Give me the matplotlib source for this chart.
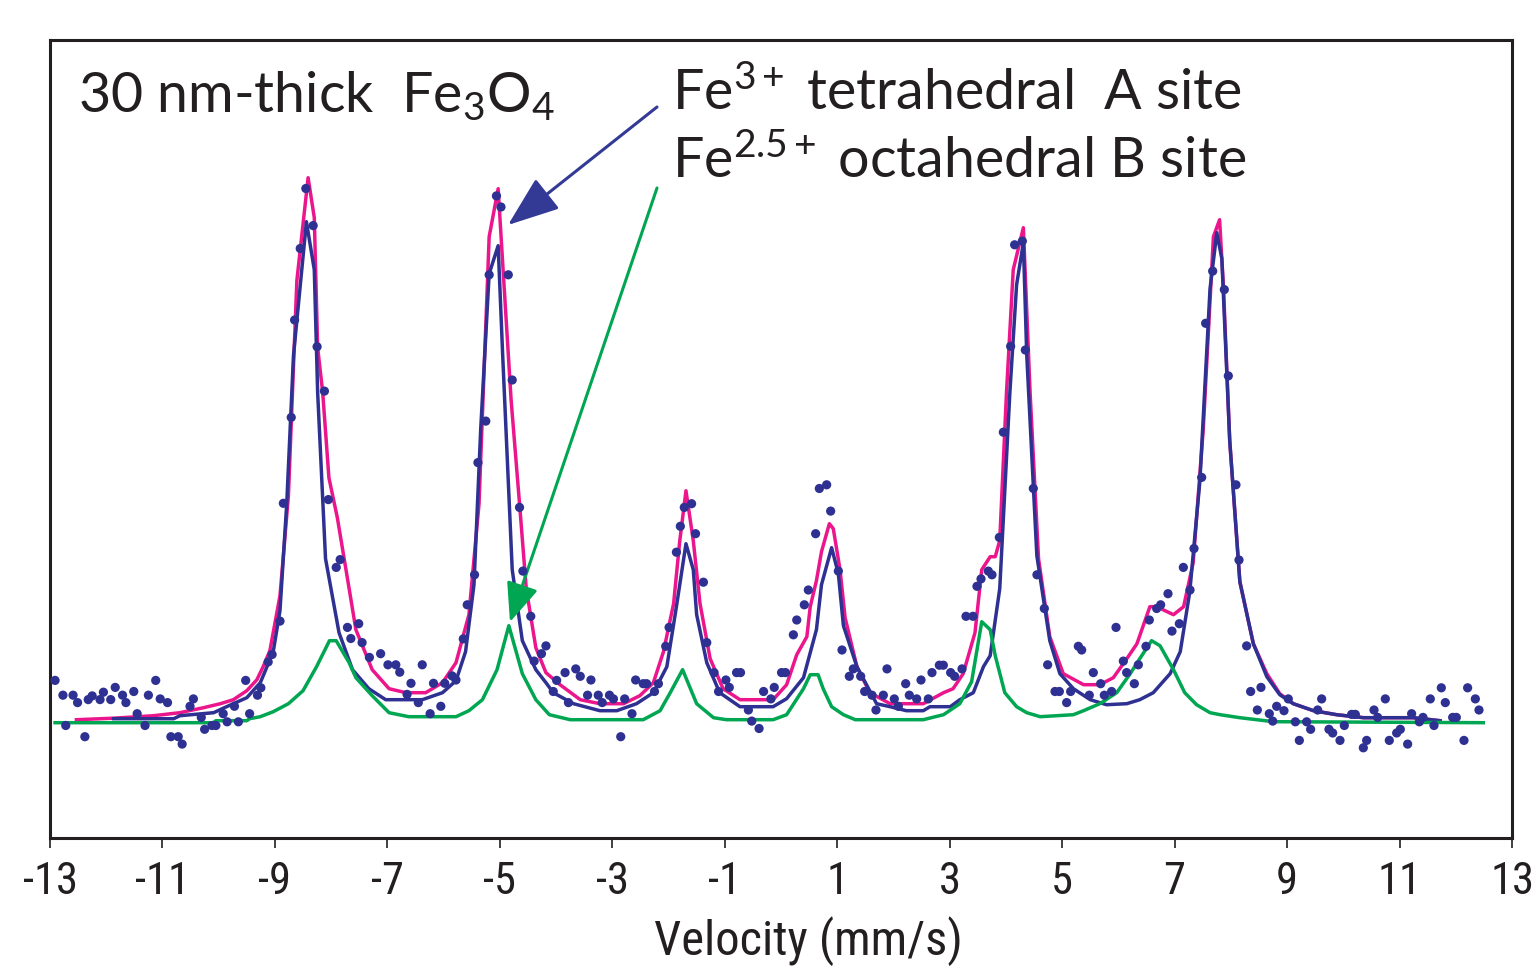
import matplotlib
matplotlib.use("Agg")
import matplotlib.pyplot as plt
from matplotlib import font_manager
import numpy as np

# ---------------- data ----------------
# measured spectrum (velocity mm/s, relative intensity)
data_v = [-12.91, -12.77, -12.72, -12.59, -12.51, -12.38, -12.32, -12.25, -12.11, -12.05,
          -11.92, -11.84, -11.71, -11.65, -11.51, -11.45, -11.31, -11.25, -11.12, -11.04,
          -10.91, -10.85, -10.72, -10.65, -10.51, -10.45, -10.31, -10.25, -10.12, -10.05,
          -9.92, -9.85, -9.72, -9.65, -9.52, -9.45, -9.31, -9.25, -9.12, -9.05,
          -8.91, -8.85, -8.71, -8.65, -8.55,
          -8.45, -8.32, -8.25, -8.12, -8.05, -7.91, -7.84, -7.71, -7.65, -7.51,
          -7.45, -7.32, -7.12, -6.99, -6.85, -6.78, -6.65, -6.58, -6.45, -6.38,
          -6.24, -6.18, -6.05, -5.98, -5.85, -5.78, -5.65, -5.58, -5.45, -5.39,
          -5.25, -5.19, -5.06, -4.98, -4.85, -4.78, -4.65, -4.59, -4.45, -4.39,
          -4.26, -4.18,
          -4.05, -3.99, -3.84, -3.78, -3.65, -3.57, -3.44, -3.38, -3.25, -3.18,
          -3.05, -2.98, -2.85, -2.78, -2.65, -2.585, -2.45, -2.39, -2.25, -2.18,
          -2.05, -1.99, -1.86, -1.79, -1.72, -1.59, -1.52, -1.38, -1.32, -1.19,
          -1.11, -0.98, -0.92, -0.79, -0.72, -0.58, -0.52, -0.39, -0.31, -0.18,
          -0.12, 0.01, 0.08, 0.22, 0.28,
          0.415, 0.486, 0.616, 0.682, 0.812, 0.883, 1.020, 1.085, 1.215, 1.286,
          1.417, 1.488, 1.618, 1.689, 1.820, 1.885, 2.015, 2.087, 2.217, 2.282,
          2.413, 2.490, 2.620, 2.685, 2.816, 2.887, 3.017, 3.088, 3.219, 3.290,
          3.414, 3.485, 3.557, 3.687, 3.752, 3.883, 3.954, 4.084, 4.155, 4.292,
          4.345, 4.487, 4.552, 4.683, 4.742,
          4.873, 4.950, 5.080, 5.151, 5.288, 5.347, 5.483, 5.554, 5.685, 5.750,
          5.880, 5.958, 6.088, 6.147, 6.284, 6.355, 6.491, 6.550, 6.681, 6.752,
          6.882, 6.953, 7.084, 7.155, 7.274, 7.345, 7.481, 7.552, 7.677, 7.884,
          7.955, 8.091, 8.145, 8.281, 8.352, 8.471, 8.536, 8.684, 8.744, 8.815,
          8.945, 9.022, 9.147, 9.218, 9.348, 9.419, 9.544, 9.615, 9.745, 9.811,
          9.941, 10.018, 10.148, 10.214, 10.356, 10.415, 10.546, 10.611, 10.747, 10.818,
          10.949, 11.014, 11.144, 11.215, 11.352, 11.417, 11.547, 11.613, 11.743, 11.814,
          11.945, 12.010, 12.146, 12.211, 12.348, 12.413]
data_y = [0.423, 0.275, -0.028, 0.275, 0.201, -0.140, 0.231, 0.268, 0.231, 0.305,
          0.231, 0.353, 0.275, 0.201, 0.312, 0.090, -0.028, 0.275, 0.423, 0.238,
          0.201, -0.140, -0.140, -0.214, 0.164, 0.238, 0.053, -0.066, -0.028, -0.028,
          0.090, 0.009, 0.164, 0.009, 0.423, 0.090, 0.275, 0.349, 0.608, 0.682,
          1.016, 2.194, 3.053, 4.027, 4.742,
          5.342, 4.971, 3.760, 3.316, 2.231, 1.553, 1.631, 0.953, 0.842, 0.990,
          0.801, 0.653, 0.690, 0.579, 0.579, 0.505, 0.283, 0.394, 0.201, 0.579,
          0.090, 0.394, 0.164, 0.394, 0.468, 0.427, 0.838, 1.179, 1.479, 2.601,
          3.016, 4.479, 5.268, 5.157, 4.479, 3.427, 2.153, 1.516, 1.064, 0.616,
          0.690, 0.768,
          0.312, 0.423, 0.501, 0.201, 0.538, 0.464, 0.275, 0.427, 0.275, 0.201,
          0.275, 0.238, -0.140, 0.238, 0.090, 0.427, 0.390, 0.390, 0.312, 0.390,
          0.764, 0.953, 1.705, 1.964, 2.153, 2.190, 1.890, 1.405, 0.801, 0.501,
          0.312, 0.427, 0.353, 0.501, 0.501, 0.127, 0.016, -0.058, 0.312, 0.238,
          0.353, 0.501, 0.501, 0.879, 1.027,
          1.179, 1.327, 1.890, 2.342, 2.379, 2.116, 1.516, 0.727, 0.464, 0.538,
          0.464, 0.312, 0.275, 0.127, 0.275, 0.538, 0.238, 0.164, 0.390, 0.275,
          0.238, 0.427, 0.238, 0.501, 0.575, 0.575, 0.501, 0.464, 0.538, 1.064,
          1.064, 1.364, 1.438, 1.516, 1.479, 1.853, 2.905, 3.764, 4.779, 4.816,
          3.727, 2.342, 1.479, 1.142, 0.579,
          0.312, 0.312, 0.201, 0.312, 0.764, 0.727, 0.275, 0.501, 0.390, 0.275,
          0.312, 0.953, 0.616, 0.501, 0.390, 0.579, 0.764, 1.027, 1.142, 1.179,
          1.290, 0.916, 0.990, 1.553, 1.327, 1.742, 2.453, 3.994, 4.516, 4.331,
          3.468, 2.379, 1.627, 0.768, 0.312, 0.127, 0.353, 0.090, 0.016, 0.164,
          0.120, 0.238, 0.009, -0.177, 0.009, -0.066, 0.127, 0.238, -0.066, -0.103,
          -0.177, -0.028, 0.083, 0.083, -0.251, -0.177, 0.127, 0.053, 0.238, -0.177,
          -0.103, -0.066, -0.214, 0.090, 0.009, 0.053, 0.238, -0.028, 0.349, 0.201,
          0.053, 0.053, -0.177, 0.349, 0.238, 0.127]

# total fit (pink)
fit_v = [-12.53, -11.87, -11.16, -10.69, -10.27, -9.97, -9.74, -9.50, -9.32, -9.21,
         -9.09, -8.91, -8.76, -8.61, -8.41, -8.30, -8.24, -8.15, -8.04, -7.89,
         -7.68, -7.56, -7.27, -6.97, -6.67, -6.32, -6.02, -5.78, -5.55, -5.37,
         -5.19, -5.03, -4.95, -4.80, -4.65, -4.53, -4.36, -4.18, -3.93, -3.57,
         -3.22, -2.80, -2.51, -2.27, -2.09, -1.91, -1.80, -1.69, -1.56, -1.44,
         -1.26, -1.03, -0.73, -0.14, 0.10, 0.28, 0.46, 0.52, 0.63, 0.72,
         0.86, 0.93, 1.05, 1.14, 1.35, 1.58, 1.94, 2.53, 2.89, 3.06,
         3.24, 3.45, 3.57, 3.72, 3.81, 3.89, 4.01, 4.13, 4.31, 4.43,
         4.58, 4.78, 5.02, 5.38, 5.67, 5.91, 6.15, 6.33, 6.56, 6.68,
         6.98, 7.16, 7.33, 7.51, 7.69, 7.80, 7.87, 7.98, 8.16, 8.40,
         8.64, 8.87, 9.11, 9.47, 9.88, 10.36, 11.24, 11.72]
fit_y = [0.03, 0.045, 0.07, 0.10, 0.15, 0.19, 0.23, 0.32, 0.43, 0.56,
         0.72, 1.27, 2.27, 4.42, 5.45, 5.05, 3.75, 3.30, 2.45, 2.05,
         1.34, 0.93, 0.53, 0.34, 0.30, 0.30, 0.40, 0.60, 1.08, 2.19,
         4.86, 5.34, 4.60, 3.23, 2.19, 1.34, 0.75, 0.50, 0.38, 0.23,
         0.19, 0.19, 0.27, 0.40, 0.71, 1.19, 1.82, 2.32, 1.82, 1.19,
         0.64, 0.34, 0.23, 0.23, 0.38, 0.68, 0.86, 1.16, 1.42, 1.71,
         1.99, 1.94, 1.53, 1.05, 0.56, 0.30, 0.19, 0.19, 0.30, 0.34,
         0.49, 0.90, 1.53, 1.66, 1.66, 1.82, 3.30, 4.53, 4.95, 3.30,
         1.64, 0.86, 0.49, 0.38, 0.38, 0.45, 0.64, 0.79, 1.16, 1.16,
         1.08, 1.16, 1.60, 2.94, 4.86, 5.03, 4.34, 2.82, 1.41, 0.79,
         0.49, 0.29, 0.19, 0.12, 0.08, 0.05, 0.05, 0.02]

# Fe3+ tetrahedral A site (blue)
a_v = [-11.87, -10.80, -10.69, -10.09, -9.86, -9.50, -9.26, -9.03, -8.91, -8.79,
       -8.67, -8.44, -8.30, -8.24, -8.10, -7.86, -7.62, -7.33, -7.03, -6.38,
       -6.02, -5.78, -5.61, -5.46, -5.34, -5.19, -5.03, -4.95, -4.78, -4.60,
       -4.36, -4.18, -4.05, -3.69, -3.22, -2.92, -2.57, -2.27, -2.03, -1.86,
       -1.69, -1.56, -1.50, -1.32, -1.09, -0.73, -0.14, 0.10, 0.40, 0.63,
       0.72, 0.90, 1.02, 1.11, 1.35, 1.70, 1.94, 2.23, 2.53, 2.65,
       3.01, 3.18, 3.42, 3.60, 3.72, 3.89, 4.07, 4.19, 4.31, 4.37,
       4.55, 4.78, 4.96, 5.20, 5.50, 5.79, 6.15, 6.38, 6.62, 6.92,
       7.10, 7.27, 7.45, 7.63, 7.75, 7.84, 7.98, 8.16, 8.40, 8.64,
       8.87, 9.11, 9.47, 9.88, 10.36, 11.24, 11.72]
a_y = [0.04, 0.04, 0.07, 0.10, 0.16, 0.25, 0.40, 0.71, 1.12, 2.19,
       3.67, 5.01, 4.53, 3.30, 1.64, 0.90, 0.53, 0.34, 0.23, 0.23,
       0.30, 0.42, 0.71, 1.38, 2.94, 4.49, 4.77, 3.68, 1.53, 0.82,
       0.53, 0.40, 0.30, 0.19, 0.12, 0.12, 0.19, 0.30, 0.56, 1.16,
       1.79, 1.53, 1.08, 0.60, 0.30, 0.16, 0.16, 0.24, 0.45, 0.93,
       1.38, 1.75, 1.49, 0.97, 0.56, 0.19, 0.16, 0.12, 0.12, 0.16,
       0.16, 0.23, 0.30, 0.56, 0.67, 1.34, 3.30, 4.38, 4.80, 3.68,
       1.67, 0.82, 0.49, 0.34, 0.23, 0.18, 0.19, 0.23, 0.30, 0.49,
       0.71, 1.31, 2.42, 4.34, 4.90, 4.64, 2.82, 1.41, 0.79, 0.46,
       0.28, 0.19, 0.12, 0.08, 0.05, 0.05, 0.02]

# Fe2.5+ octahedral B site (green)
b_v = [-12.91, -10.10, -10.05, -9.50, -9.45, -9.26, -9.03, -8.76, -8.50, -8.26,
       -8.03, -7.91, -7.68, -7.56, -7.27, -6.97, -6.62, -5.78, -5.55, -5.31,
       -5.05, -4.84, -4.60, -4.36, -4.12, -3.75, -2.45, -2.15, -1.97, -1.75,
       -1.50, -1.20, -0.97, -0.14, 0.10, 0.40, 0.52, 0.66, 0.75, 0.90,
       1.11, 1.32, 2.53, 2.89, 3.18, 3.39, 3.57, 3.72, 3.81, 3.98,
       4.19, 4.37, 4.61, 5.20, 5.38, 5.67, 5.97, 6.21, 6.38, 6.59,
       6.74, 6.98, 7.18, 7.39, 7.63, 7.81, 8.16, 8.76, 12.49]
b_y = [0.0, 0.0, 0.02, 0.02, 0.04, 0.06, 0.11, 0.19, 0.32, 0.56,
       0.82, 0.82, 0.60, 0.45, 0.27, 0.10, 0.06, 0.06, 0.12, 0.23,
       0.53, 0.97, 0.49, 0.23, 0.08, 0.03, 0.03, 0.12, 0.30, 0.53,
       0.19, 0.05, 0.03, 0.03, 0.08, 0.34, 0.48, 0.48, 0.34, 0.16,
       0.08, 0.03, 0.03, 0.08, 0.19, 0.41, 1.01, 0.93, 0.67, 0.30,
       0.16, 0.10, 0.06, 0.08, 0.12, 0.19, 0.30, 0.49, 0.64, 0.82,
       0.77, 0.53, 0.30, 0.18, 0.10, 0.08, 0.05, 0.01, 0.0]

x_ticks = [-13, -11, -9, -7, -5, -3, -1, 1, 3, 5, 7, 9, 11, 13]
x_tick_labels = ['-13', '-11', '-9', '-7', '-5', '-3', '-1', '1', '3', '5', '7', '9', '11', '13']

# ---------------- style ----------------
PINK = '#EC168C'
BLUE = '#2E3192'
GREEN = '#00A651'
INK = '#231F20'

plt.rcParams['mathtext.fontset'] = 'custom'
plt.rcParams['mathtext.rm'] = 'Lato'
plt.rcParams['mathtext.it'] = 'Lato:italic'
plt.rcParams['mathtext.bf'] = 'Lato:bold'

# pick a narrow face for the axis text if one is installed
ttf = font_manager.fontManager.ttflist
names = {f.name for f in ttf}
narrow_family, narrow_stretch = 'DejaVu Sans', 'normal'
for cand in ['Liberation Sans Narrow', 'Roboto Condensed', 'Open Sans Condensed',
             'Noto Sans Condensed', 'DejaVu Sans Condensed']:
    if cand in names:
        narrow_family = cand
        break
else:
    cond = [f for f in ttf if f.stretch in ('condensed', 'semi-condensed', 'extra-condensed')
            and f.weight in (400, 'normal', 'regular')]
    if cond:
        narrow_family, narrow_stretch = cond[0].name, cond[0].stretch
narrow = [narrow_family, 'DejaVu Sans']
main = ['Lato', 'DejaVu Sans']
tick_size = 32 if narrow_stretch != 'normal' or narrow_family != 'DejaVu Sans' else 29

fig = plt.figure(figsize=(15.38, 9.66), dpi=100)
ax = fig.add_axes([50 / 1538, 128 / 966, 1462 / 1538, 798 / 966])

ax.plot(fit_v, fit_y, color=PINK, lw=2.5, zorder=2)
ax.plot(a_v, a_y, color=BLUE, lw=2.5, zorder=3)
ax.plot(b_v, b_y, color=GREEN, lw=2.5, zorder=3)
ax.scatter(data_v, data_y, s=44, color=BLUE, edgecolors='none', zorder=4)

ax.set_xlim(-13, 13)
ax.set_ylim(-1.153, 6.827)
ax.set_xticks(x_ticks)
ax.set_xticklabels(x_tick_labels, family=narrow, stretch=narrow_stretch,
                   fontsize=tick_size, color=INK)
ax.set_yticks([])
ax.tick_params(axis='x', direction='out', length=7.5, width=1.2, pad=9, colors=INK)
for sp in ax.spines.values():
    sp.set_linewidth(2.2)
    sp.set_color(INK)

ax.set_xlabel('Velocity (mm/s)', family=narrow, stretch=narrow_stretch,
              fontsize=tick_size + 3, color=INK, labelpad=4)
ax.xaxis.set_label_coords((808 - 50) / 1462, -0.098)

# title and annotations
ax.text(-12.5, 6.107, r'30 nm-thick  Fe$_3$O$_4$', family=main, fontsize=40,
        color=INK, ha='left', va='baseline')
ax.text(-1.938, 6.127, r'Fe$^{3+}$ tetrahedral  A site', family=main, fontsize=40,
        color=INK, ha='left', va='baseline')
ax.text(-1.938, 5.447, r'Fe$^{2.5+}$ octahedral B site', family=main, fontsize=40,
        color=INK, ha='left', va='baseline')

ax.annotate('', xy=(-4.855, 4.977), xytext=(-2.205, 6.157),
            arrowprops=dict(arrowstyle='-|>,head_length=1.6,head_width=0.6',
                            mutation_scale=20, color='#333A96', lw=2.2,
                            shrinkA=0, shrinkB=0))
ax.annotate('', xy=(-4.82, 1.007), xytext=(-2.205, 5.347),
            arrowprops=dict(arrowstyle='-|>,head_length=1.2,head_width=0.5',
                            mutation_scale=20, color=GREEN, lw=2.2,
                            shrinkA=0, shrinkB=0))

fig.savefig('out.png', dpi=100, facecolor='white')
